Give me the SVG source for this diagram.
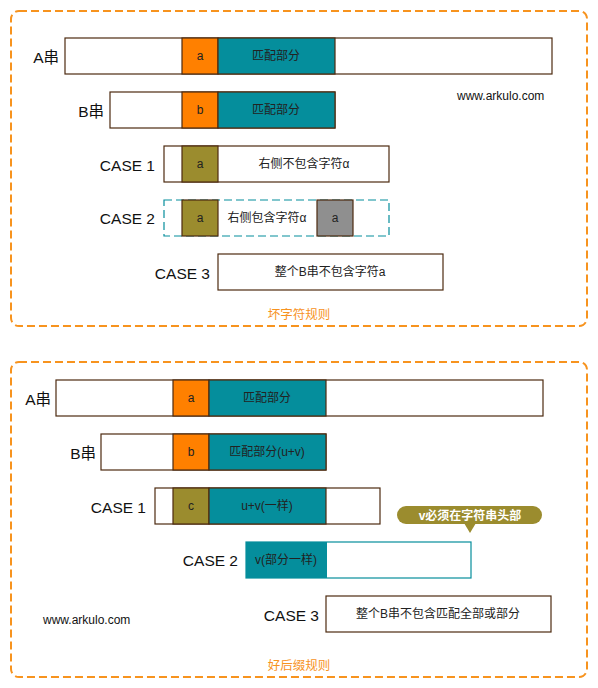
<svg xmlns="http://www.w3.org/2000/svg" width="598" height="688" viewBox="0 0 598 688">
<style>
.frame{fill:none;stroke:#F7931E;stroke-width:2;stroke-dasharray:8 4}
.box{stroke:#4D2A10;stroke-width:1.2}
.w{fill:#FFFFFF}
.or{fill:#FF8000}
.tl{fill:#058E9C}
.ol{fill:#9B8C2E}
.gr{fill:#8F8F8F}
.lbl{font-family:"Liberation Sans","Noto Sans CJK SC",sans-serif;font-size:15.5px;fill:#111;text-anchor:end}
.t{font-family:"Liberation Sans","Noto Sans CJK SC",sans-serif;font-size:12px;fill:#222;text-anchor:middle}
.cap{font-family:"Liberation Sans","Noto Sans CJK SC",sans-serif;font-size:12.5px;fill:#F7931E;text-anchor:middle}
.url{font-family:"Liberation Sans",sans-serif;font-size:12px;fill:#111}
</style>
<rect width="598" height="688" fill="#FFFFFF"/>
<g id="frame-bad">
<rect class="frame" x="11" y="11" width="576" height="315" rx="8"/>
<text class="cap" x="299" y="319">坏字符规则</text>
</g>
<g id="frame-good">
<rect class="frame" x="11" y="362" width="576" height="315" rx="8"/>
<text class="cap" x="299" y="670">好后缀规则</text>
</g>

<g id="bad-A">
<text class="lbl" x="59" y="63">A串</text>
<rect class="box w" x="65" y="38" width="487" height="36"/>
<rect class="box or" x="182" y="38" width="36" height="36"/>
<rect class="box tl" x="218" y="38" width="117" height="36"/>
<text class="t" x="200" y="60">a</text>
<text class="t" x="276" y="60">匹配部分</text>
</g>
<g id="bad-B">
<text class="lbl" x="104" y="117">B串</text>
<rect class="box w" x="110" y="92" width="225" height="36"/>
<rect class="box or" x="182" y="92" width="36" height="36"/>
<rect class="box tl" x="218" y="92" width="117" height="36"/>
<text class="t" x="200" y="114">b</text>
<text class="t" x="276" y="114">匹配部分</text>
</g>
<text id="url1" class="url" x="457" y="100">www.arkulo.com</text>
<g id="bad-case1">
<text class="lbl" x="155" y="171">CASE 1</text>
<rect class="box w" x="164" y="146" width="225" height="36"/>
<rect class="box ol" x="182" y="146" width="36" height="36"/>
<text class="t" x="200" y="168">a</text>
<text class="t" x="304" y="168">右侧不包含字符α</text>
</g>
<g id="bad-case2">
<text class="lbl" x="155" y="224">CASE 2</text>
<rect x="164" y="200" width="225" height="36" fill="#FFFFFF" stroke="#058E9C" stroke-width="1.2" stroke-dasharray="8 4"/>
<rect class="box ol" x="182" y="200" width="36" height="36"/>
<rect class="box gr" x="317" y="200" width="36" height="36"/>
<text class="t" x="200" y="222">a</text>
<text class="t" x="267" y="222">右侧包含字符α</text>
<text class="t" x="335" y="222">a</text>
</g>
<g id="bad-case3">
<text class="lbl" x="210" y="279">CASE 3</text>
<rect class="box w" x="218" y="254" width="225" height="36"/>
<text class="t" x="330" y="276">整个B串不包含字符a</text>
</g>

<g id="good-A">
<text class="lbl" x="51" y="405">A串</text>
<rect class="box w" x="56" y="380" width="487" height="36"/>
<rect class="box or" x="173" y="380" width="36" height="36"/>
<rect class="box tl" x="209" y="380" width="117" height="36"/>
<text class="t" x="191" y="402">a</text>
<text class="t" x="267" y="402">匹配部分</text>
</g>
<g id="good-B">
<text class="lbl" x="96" y="459">B串</text>
<rect class="box w" x="101" y="434" width="225" height="36"/>
<rect class="box or" x="173" y="434" width="36" height="36"/>
<rect class="box tl" x="209" y="434" width="117" height="36"/>
<text class="t" x="191" y="456">b</text>
<text class="t" x="267" y="456">匹配部分(u+v)</text>
</g>
<g id="good-case1">
<text class="lbl" x="146" y="513">CASE 1</text>
<rect class="box w" x="155" y="488" width="225" height="36"/>
<rect class="box ol" x="173" y="488" width="36" height="36"/>
<rect class="box tl" x="209" y="488" width="117" height="36"/>
<text class="t" x="191" y="510">c</text>
<text class="t" x="267" y="510">u+v(一样)</text>
</g>
<g id="callout">
<rect x="397" y="506" width="145" height="18" rx="9" fill="#9B8C2E"/>
<polygon points="464,523 476,523 470,533" fill="#9B8C2E"/>
<text x="470" y="519.5" font-family="Liberation Sans,'Noto Sans CJK SC',sans-serif" font-size="12" font-weight="bold" fill="#FFFFFF" text-anchor="middle">v必须在字符串头部</text>
</g>
<g id="good-case2">
<text class="lbl" x="238" y="566">CASE 2</text>
<rect x="246" y="542" width="225" height="36" fill="#FFFFFF" stroke="#058E9C" stroke-width="1.2"/>
<rect class="tl" x="246" y="542" width="81" height="36"/>
<text class="t" x="286" y="564">v(部分一样)</text>
</g>
<text id="url2" class="url" x="43" y="624">www.arkulo.com</text>
<g id="good-case3">
<text class="lbl" x="319" y="621">CASE 3</text>
<rect class="box w" x="326" y="596" width="225" height="36"/>
<text class="t" x="438" y="618">整个B串不包含匹配全部或部分</text>
</g>
</svg>
